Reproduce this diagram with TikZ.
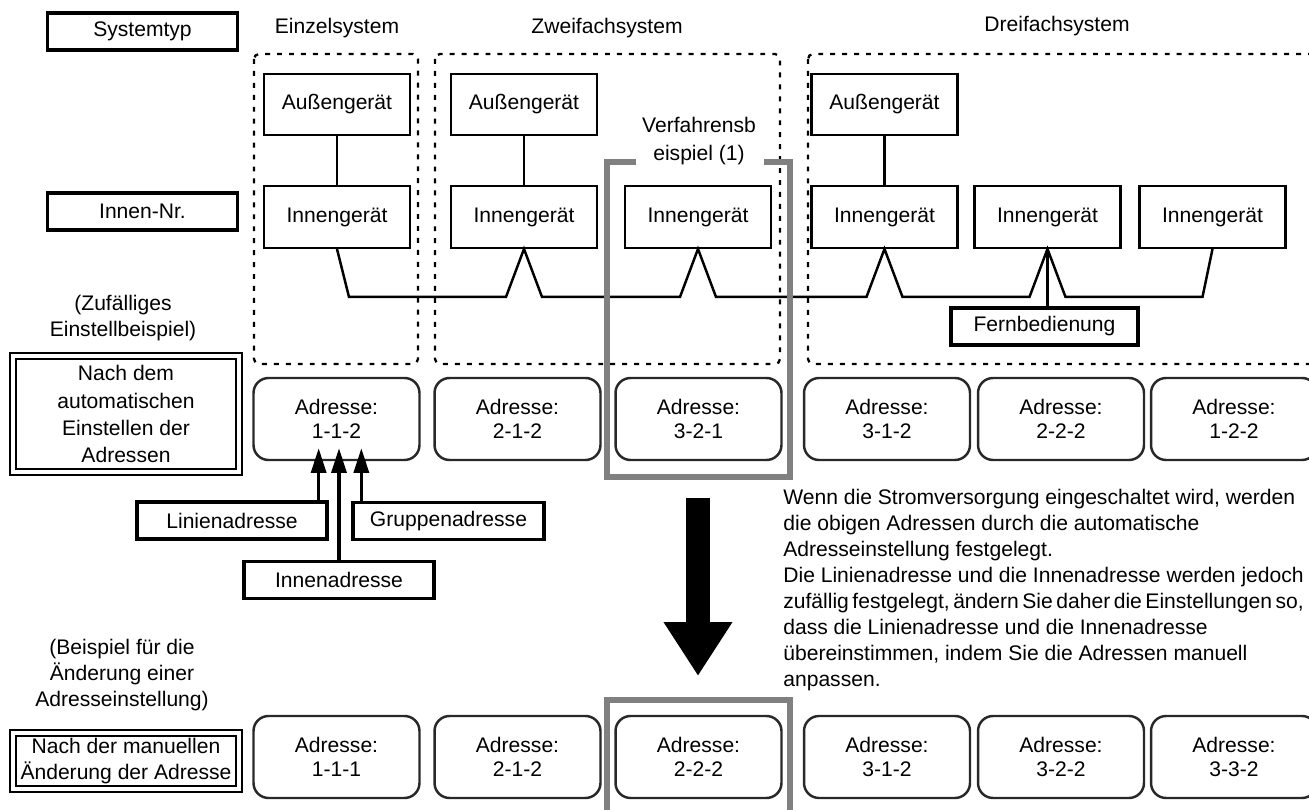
\documentclass[tikz,border=0pt]{standalone}
\usepackage{fontspec}
\setmainfont{Liberation Sans}
\usepackage{tikz}
\usetikzlibrary{arrows.meta,calc}
\definecolor{framegray}{RGB}{128,128,128}
\definecolor{boxline}{RGB}{40,40,40}

\begin{document}
\begin{tikzpicture}[x=0.02cm, y=-0.02cm,
  every node/.style={font=\fontsize{12pt}{14.8pt}\selectfont},
  unitbox/.style={draw, line width=1.4pt, minimum width=2.92cm, minimum height=1.23cm, inner sep=0pt},
  tagbox/.style={draw, line width=1.9pt, minimum width=3.8cm, minimum height=0.74cm, inner sep=0pt},
  addrbox/.style={draw=boxline, line width=1.4pt, rounded corners=0.3cm, minimum width=3.32cm,
    minimum height=1.64cm, align=center, inner sep=0pt, font=\fontsize{12pt}{13.7pt}\selectfont},
  dblbox/.style={draw, double, line width=1.2pt, double distance=2.4pt, minimum width=4.52cm,
    align=center, inner sep=0pt},
  groupframe/.style={line width=1.3pt, dash pattern=on 2.8pt off 4pt, rounded corners=0.1cm},
  busline/.style={line width=1.4pt},
  hiliteframe/.style={draw=framegray, line width=3.3pt},
  pickarrow/.style={line width=1.9pt, -{Triangle[length=14pt, width=8.5pt]}}]

\useasboundingbox (0,0) rectangle (1309,810);

% Row headings
\node[tagbox] (typ) at (142.5,31.5) {Systemtyp};
\node[tagbox] (nr) at (142.5,211.5) {Innen-Nr.};
\node (sys1) at (337,28) {Einzelsystem};
\node (sys2) at (607,28) {Zweifachsystem};
\node (sys3) at (1057,26) {Dreifachsystem};

% Dotted system frames
\draw[groupframe] (254,54) rectangle (418,364);
\draw[groupframe] (435,54) rectangle (780,364);
\draw[groupframe] (808,54) rectangle (1330,364);

% Outdoor and indoor units
\foreach \n/\x in {o1/337, o2/524, o3/884.5}
  \node[unitbox] (\n) at (\x,104.5) {Außengerät};
\foreach \n/\x in {i1/337, i2/524, i3/698, i4/884.5, i5/1047.5, i6/1212.5}
  \node[unitbox] (\n) at (\x,217) {Innengerät};
\foreach \a/\b in {o1/i1, o2/i2, o3/i4}
  \draw[busline] (\a) -- (\b);

% Control wiring
\draw[busline] (i1.south) -- ($(i1.south)+(12,48)$)
  \foreach \n in {i2,i3,i4,i5} {
    -- ($(\n.south)+(-18,48)$) -- (\n.south) -- ($(\n.south)+(18,48)$)
  }
  -- ($(i6.south)+(-10,48)$) -- (i6.south);

\node[tagbox, minimum width=3.74cm] (remote) at (1044.5,326.5) {Fernbedienung};
\draw[busline] (i5.south) -- (i5.south |- remote.north);

% Example (1) highlight
\node[align=center, font=\fontsize{12pt}{16pt}\selectfont] (proc) at (699,141) {Verfahrensb\\eispiel (1)};
\draw[hiliteframe] (636,162) -| (607,477) -| (790,162) -- (764,162);
\draw[hiliteframe] (607,830) |- (790,700) -- (790,830);

% Addresses after automatic setting
\node[align=center] (rand) at (123,318) {(Zufälliges\\Einstellbeispiel)};
\node[dblbox, minimum height=2.32cm, font=\fontsize{12pt}{15.4pt}\selectfont] (auto) at (126,414)
  {Nach dem\\automatischen\\Einstellen der\\Adressen};
\foreach \n/\x/\t in {1/336.5/1-1-2, 2/517.5/2-1-2, 3/698.5/3-2-1, 4/887/3-1-2, 5/1061/2-2-2, 6/1234/1-2-2}
  \node[addrbox] (a\n) at (\x,419) {Adresse:\\\t};

% Address parts
\node[tagbox] (lin) at (232,520.5) {Linienadresse};
\node[tagbox, minimum width=3.82cm] (grp) at (448.5,521) {Gruppenadresse};
\node[tagbox] (inn) at (339,580) {Innenadresse};
\draw[pickarrow] ($(lin.north east)+(-10,0)$) -- ($(lin.north east |- a1.south)+(-10,-13)$);
\draw[pickarrow] (inn.north) -- ($(inn.north |- a1.south)+(0,-13)$);
\draw[pickarrow] ($(grp.north west)+(10,0)$) -- ($(grp.north west |- a1.south)+(10,-13)$);

% Big arrow and explanation
\coordinate (downtop) at (698,498);
\coordinate (downtip) at (698,676);
\draw[line width=13.7pt, -{Triangle[length=30.7pt, width=37pt]}] (downtop) -- (downtip);
\node[anchor=north west, align=left, inner sep=0pt] (note) at (783,489)
  {Wenn die Stromversorgung eingeschaltet wird, werden\\
   die obigen Adressen durch die automatische\\
   Adresseinstellung festgelegt.\\
   Die Linienadresse und die Innenadresse werden jedoch\\
   {\spaceskip=2pt zufällig festgelegt, ändern Sie daher die Einstellungen so,}\\
   dass die Linienadresse und die Innenadresse\\
   übereinstimmen, indem Sie die Adressen manuell\\
   anpassen.};

% Addresses after manual change
\node[align=center] (chg) at (122,675) {(Beispiel für die\\Änderung einer\\Adresseinstellung)};
\node[dblbox, minimum height=1.12cm] (man) at (126,761) {Nach der manuellen\\Änderung der Adresse};
\foreach \n/\x/\t in {1/336.5/1-1-1, 2/517.5/2-1-2, 3/698.5/2-2-2, 4/887/3-1-2, 5/1061/3-2-2, 6/1234/3-3-2}
  \node[addrbox] (b\n) at (\x,757) {Adresse:\\\t};

\end{tikzpicture}
\end{document}
